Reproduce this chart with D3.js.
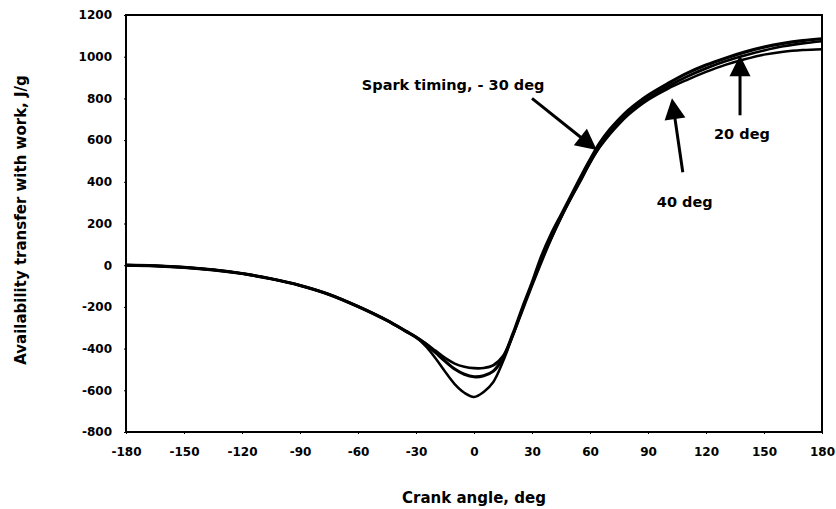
<!DOCTYPE html>
<html>
<head>
<meta charset="utf-8">
<script src="https://cdn.jsdelivr.net/npm/d3@7/dist/d3.min.js"></script>
<style>
  html, body { margin: 0; padding: 0; background: #fff; }
  svg { display: block; font-family: "DejaVu Sans", "Liberation Sans", Arial, sans-serif; font-weight: bold; }
</style>
</head>
<body>
<svg id="chart" width="836" height="509"></svg>
<script>
// Crank angle, deg
const crankAngle = [-180,-165,-150,-135,-120,-105,-90,-75,-60,-45,-35,-30,
  -25,-20,-15,-10,-5,0,5,10,15,20,25,30,35,40,45,50,55,60,65,70,75,80,85,90,
  100,110,120,130,140,150,160,170,180];

// Availability transfer with work, J/g, for each spark timing
const spark20 = [0,-3,-10,-22,-40,-65,-97,-140,-198,-265,-318,-345,
  -375,-410,-445,-472,-487,-494,-493,-480,-436,-338,-218,-98,18,128,228,320,408,493,570,633,686,730,768,801,
  856,904,944,978,1006,1030,1050,1064,1074];
const spark30 = [0,-3,-10,-22,-40,-65,-97,-140,-198,-265,-318,-345,
  -378,-418,-460,-498,-523,-535,-530,-508,-445,-332,-205,-85,45,150,240,330,420,505,585,648,700,745,782,815,
  870,920,960,993,1022,1046,1064,1077,1086];
const spark40 = [0,-3,-10,-22,-40,-65,-97,-140,-198,-265,-318,-345,
  -388,-445,-510,-570,-612,-632,-608,-560,-462,-340,-210,-92,25,130,228,318,402,490,565,625,677,722,760,793,
  845,888,927,961,988,1010,1024,1032,1036];

const xTicks = [-180,-150,-120,-90,-60,-30,0,30,60,90,120,150,180];
const yTicks = [-800,-600,-400,-200,0,200,400,600,800,1000,1200];

// Callouts: label text, label anchor point, arrow tail and head (data units)
const calloutText  = ["Spark timing, - 30 deg", "40 deg", "20 deg"];
const calloutLabel = [[-58, 840, "start"], [109, 278, "middle"], [138.6, 604, "middle"]];
const calloutArrow = [[[30, 800], [63.5, 552]], [[108, 446], [102.4, 801]], [[137.6, 719], [137.6, 1007]]];

const svg = d3.select("#chart");
const W = 836, H = 509;
const m = { left: 126, right: 14, top: 15, bottom: 77 };
const pw = W - m.left - m.right, ph = H - m.top - m.bottom;

svg.append("rect").attr("width", W).attr("height", H).attr("fill", "#fff");

const x = d3.scaleLinear().domain([-180, 180]).range([m.left, m.left + pw]);
const y = d3.scaleLinear().domain([-800, 1200]).range([m.top + ph, m.top]);

// Axes
const xAxis = svg.append("g")
  .attr("transform", `translate(0,${m.top + ph})`)
  .call(d3.axisBottom(x).tickValues(xTicks).tickFormat(d => String(d)).tickSize(2).tickPadding(13));
const yAxis = svg.append("g")
  .attr("transform", `translate(${m.left},0)`)
  .call(d3.axisLeft(y).tickValues(yTicks).tickFormat(d => String(d)).tickSize(2).tickPadding(12));
[xAxis, yAxis].forEach(g => {
  g.select(".domain").remove();
  g.selectAll(".tick line").attr("stroke", "#000").attr("stroke-width", 1);
  g.selectAll(".tick text").attr("fill", "#000").style("font-size", "12px")
    .style("font-family", "'DejaVu Sans', sans-serif").style("font-weight", "bold");
});
xAxis.selectAll(".tick text").attr("dy", "0.71em");

// Plot frame
svg.append("rect")
  .attr("x", m.left).attr("y", m.top).attr("width", pw).attr("height", ph)
  .attr("fill", "none").attr("stroke", "#000").attr("stroke-width", 2);

// Curves
const line = d3.line()
  .x((d, i) => x(crankAngle[i]))
  .y(d => y(d))
  .curve(d3.curveCatmullRom.alpha(0.5));

const series = [
  { values: spark40, width: 2.5 },
  { values: spark20, width: 2.7 },
  { values: spark30, width: 3.2 }
];
svg.append("g").selectAll("path").data(series).join("path")
  .attr("d", s => line(s.values))
  .attr("fill", "none")
  .attr("stroke", "#000")
  .attr("stroke-width", s => s.width)
  .attr("stroke-linejoin", "round");

// Callout arrows
const headLen = 21, headHalf = 10.5;
const arrows = svg.append("g");
calloutArrow.forEach(([from, to]) => {
  const x0 = x(from[0]), y0 = y(from[1]);
  const x1 = x(to[0]), y1 = y(to[1]);
  const dx = x1 - x0, dy = y1 - y0, len = Math.hypot(dx, dy);
  const ux = dx / len, uy = dy / len;
  const bx = x1 - ux * headLen, by = y1 - uy * headLen;
  arrows.append("line")
    .attr("x1", x0).attr("y1", y0).attr("x2", bx + ux * 2).attr("y2", by + uy * 2)
    .attr("stroke", "#000").attr("stroke-width", 3);
  arrows.append("path")
    .attr("d", `M${x1},${y1}L${bx - uy * headHalf},${by + ux * headHalf}L${bx + uy * headHalf},${by - ux * headHalf}Z`)
    .attr("fill", "#000");
});

// Callout labels
svg.append("g").selectAll("text").data(calloutText).join("text")
  .attr("x", (d, i) => x(calloutLabel[i][0]))
  .attr("y", (d, i) => y(calloutLabel[i][1]))
  .attr("text-anchor", (d, i) => calloutLabel[i][2])
  .style("font-size", "14.5px")
  .attr("fill", "#000")
  .text(d => d);

// Axis titles
svg.append("text")
  .attr("x", x(0)).attr("y", 503)
  .attr("text-anchor", "middle")
  .style("font-size", "15px")
  .text("Crank angle, deg");
svg.append("text")
  .attr("transform", `translate(26,${220}) rotate(-90)`)
  .attr("text-anchor", "middle")
  .style("font-size", "15px")
  .text("Availability transfer with work, J/g");
</script>
</body>
</html>
